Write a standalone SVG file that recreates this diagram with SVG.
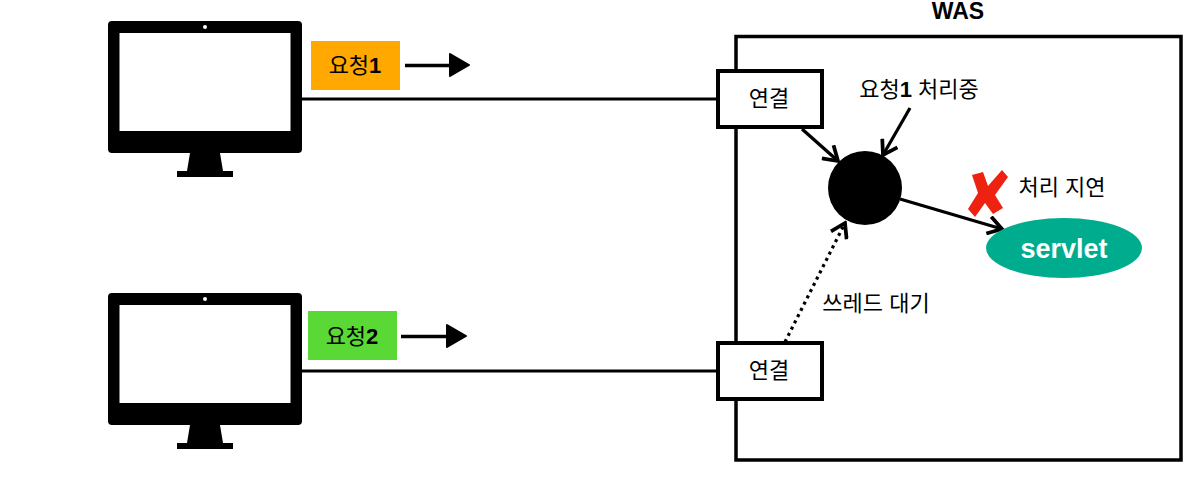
<svg xmlns="http://www.w3.org/2000/svg" width="1202" height="497" viewBox="0 0 1202 497">
<style>
text{font-family:"Liberation Sans","Noto Sans CJK KR",sans-serif;font-size:22px;fill:#000;text-anchor:middle}
.ln{fill:none;stroke:#000;stroke-width:3.2}
.box{fill:#fff;stroke:#000;stroke-width:4}
.hand{fill:none;stroke:#000;stroke-width:3.400}
.b{font-weight:700}
</style>
<defs>
<marker id="open" markerUnits="userSpaceOnUse" markerWidth="20" markerHeight="20" refX="14" refY="8" orient="auto" viewBox="0 0 16 16"><path d="M3 1L14 8L3 15" fill="none" stroke="#000" stroke-width="3"/></marker>
<g id="monitor">
<rect x="108" y="21" width="194" height="132" rx="4" fill="#000"/>
<rect x="119.500" y="33" width="171" height="98" fill="#fff"/>
<circle cx="205" cy="27" r="2" fill="#fff"/>
<path d="M190 153H220L223 171H233V177H177V171H187Z" fill="#000"/>
</g>
</defs>
<g id="was"><rect x="736" y="36.500" width="445" height="423.500" fill="#fff" stroke="#000" stroke-width="3.500"/><text x="958" y="19" class="b" style="font-size:23px">WAS</text></g>
<g id="connectors">
<path class="ln" d="M302 99H717"/>
<path class="ln" d="M302 371H717"/>
<path class="ln" d="M802 129L838 161" marker-end="url(#open)"/>
<path class="ln" d="M910 108L883 155" marker-end="url(#open)"/>
<path class="ln" d="M900 199L1002 229" marker-end="url(#open)"/>
<path d="M785 342L845 223" fill="none" stroke="#000" stroke-width="3.200" stroke-dasharray="3 4" marker-end="url(#open)"/>
<path class="hand" d="M405 65.500H450"/>
<path d="M450 54L469 65L450 76Z" fill="#000" stroke="#000" stroke-width="2" stroke-linejoin="round"/>
<path class="hand" d="M401 336.500H446"/>
<path d="M447 325L466 336L447 347Z" fill="#000" stroke="#000" stroke-width="2" stroke-linejoin="round"/>
</g>
<g id="client1"><use href="#monitor"/></g>
<g id="client2"><use href="#monitor" y="272"/></g>
<g id="req1"><rect x="311" y="41" width="89" height="49" fill="#ffa800"/><text x="355" y="73">요청<tspan class="b">1</tspan></text></g>
<g id="req2"><rect x="308" y="311" width="89" height="49" fill="#5ad836"/><text x="352" y="344">요청<tspan class="b">2</tspan></text></g>
<g id="conn1"><rect class="box" x="718" y="71" width="104" height="56"/><text x="769" y="106">연결</text></g>
<g id="conn2"><rect class="box" x="718" y="343" width="104" height="56"/><text x="769" y="378">연결</text></g>
<g id="thread"><circle cx="865" cy="188" r="37" fill="#000"/></g>
<g id="servlet"><ellipse cx="1064" cy="248" rx="78" ry="30" fill="#00ac8e"/><text x="1064" y="258" class="b" style="fill:#fff;font-size:27px">servlet</text></g>
<g id="cross"><path d="M972 175L983 172L988 186L1002 170L1008 177L995 195L1003 208L993 214L985 203L975 217L968 209L978 193Z" fill="#ee2211"/></g>
<g id="labels">
<text x="919" y="97">요청<tspan class="b">1</tspan> 처리중</text>
<text x="1062" y="195">처리 지연</text>
<text x="876" y="311">쓰레드 대기</text>
</g>
</svg>
